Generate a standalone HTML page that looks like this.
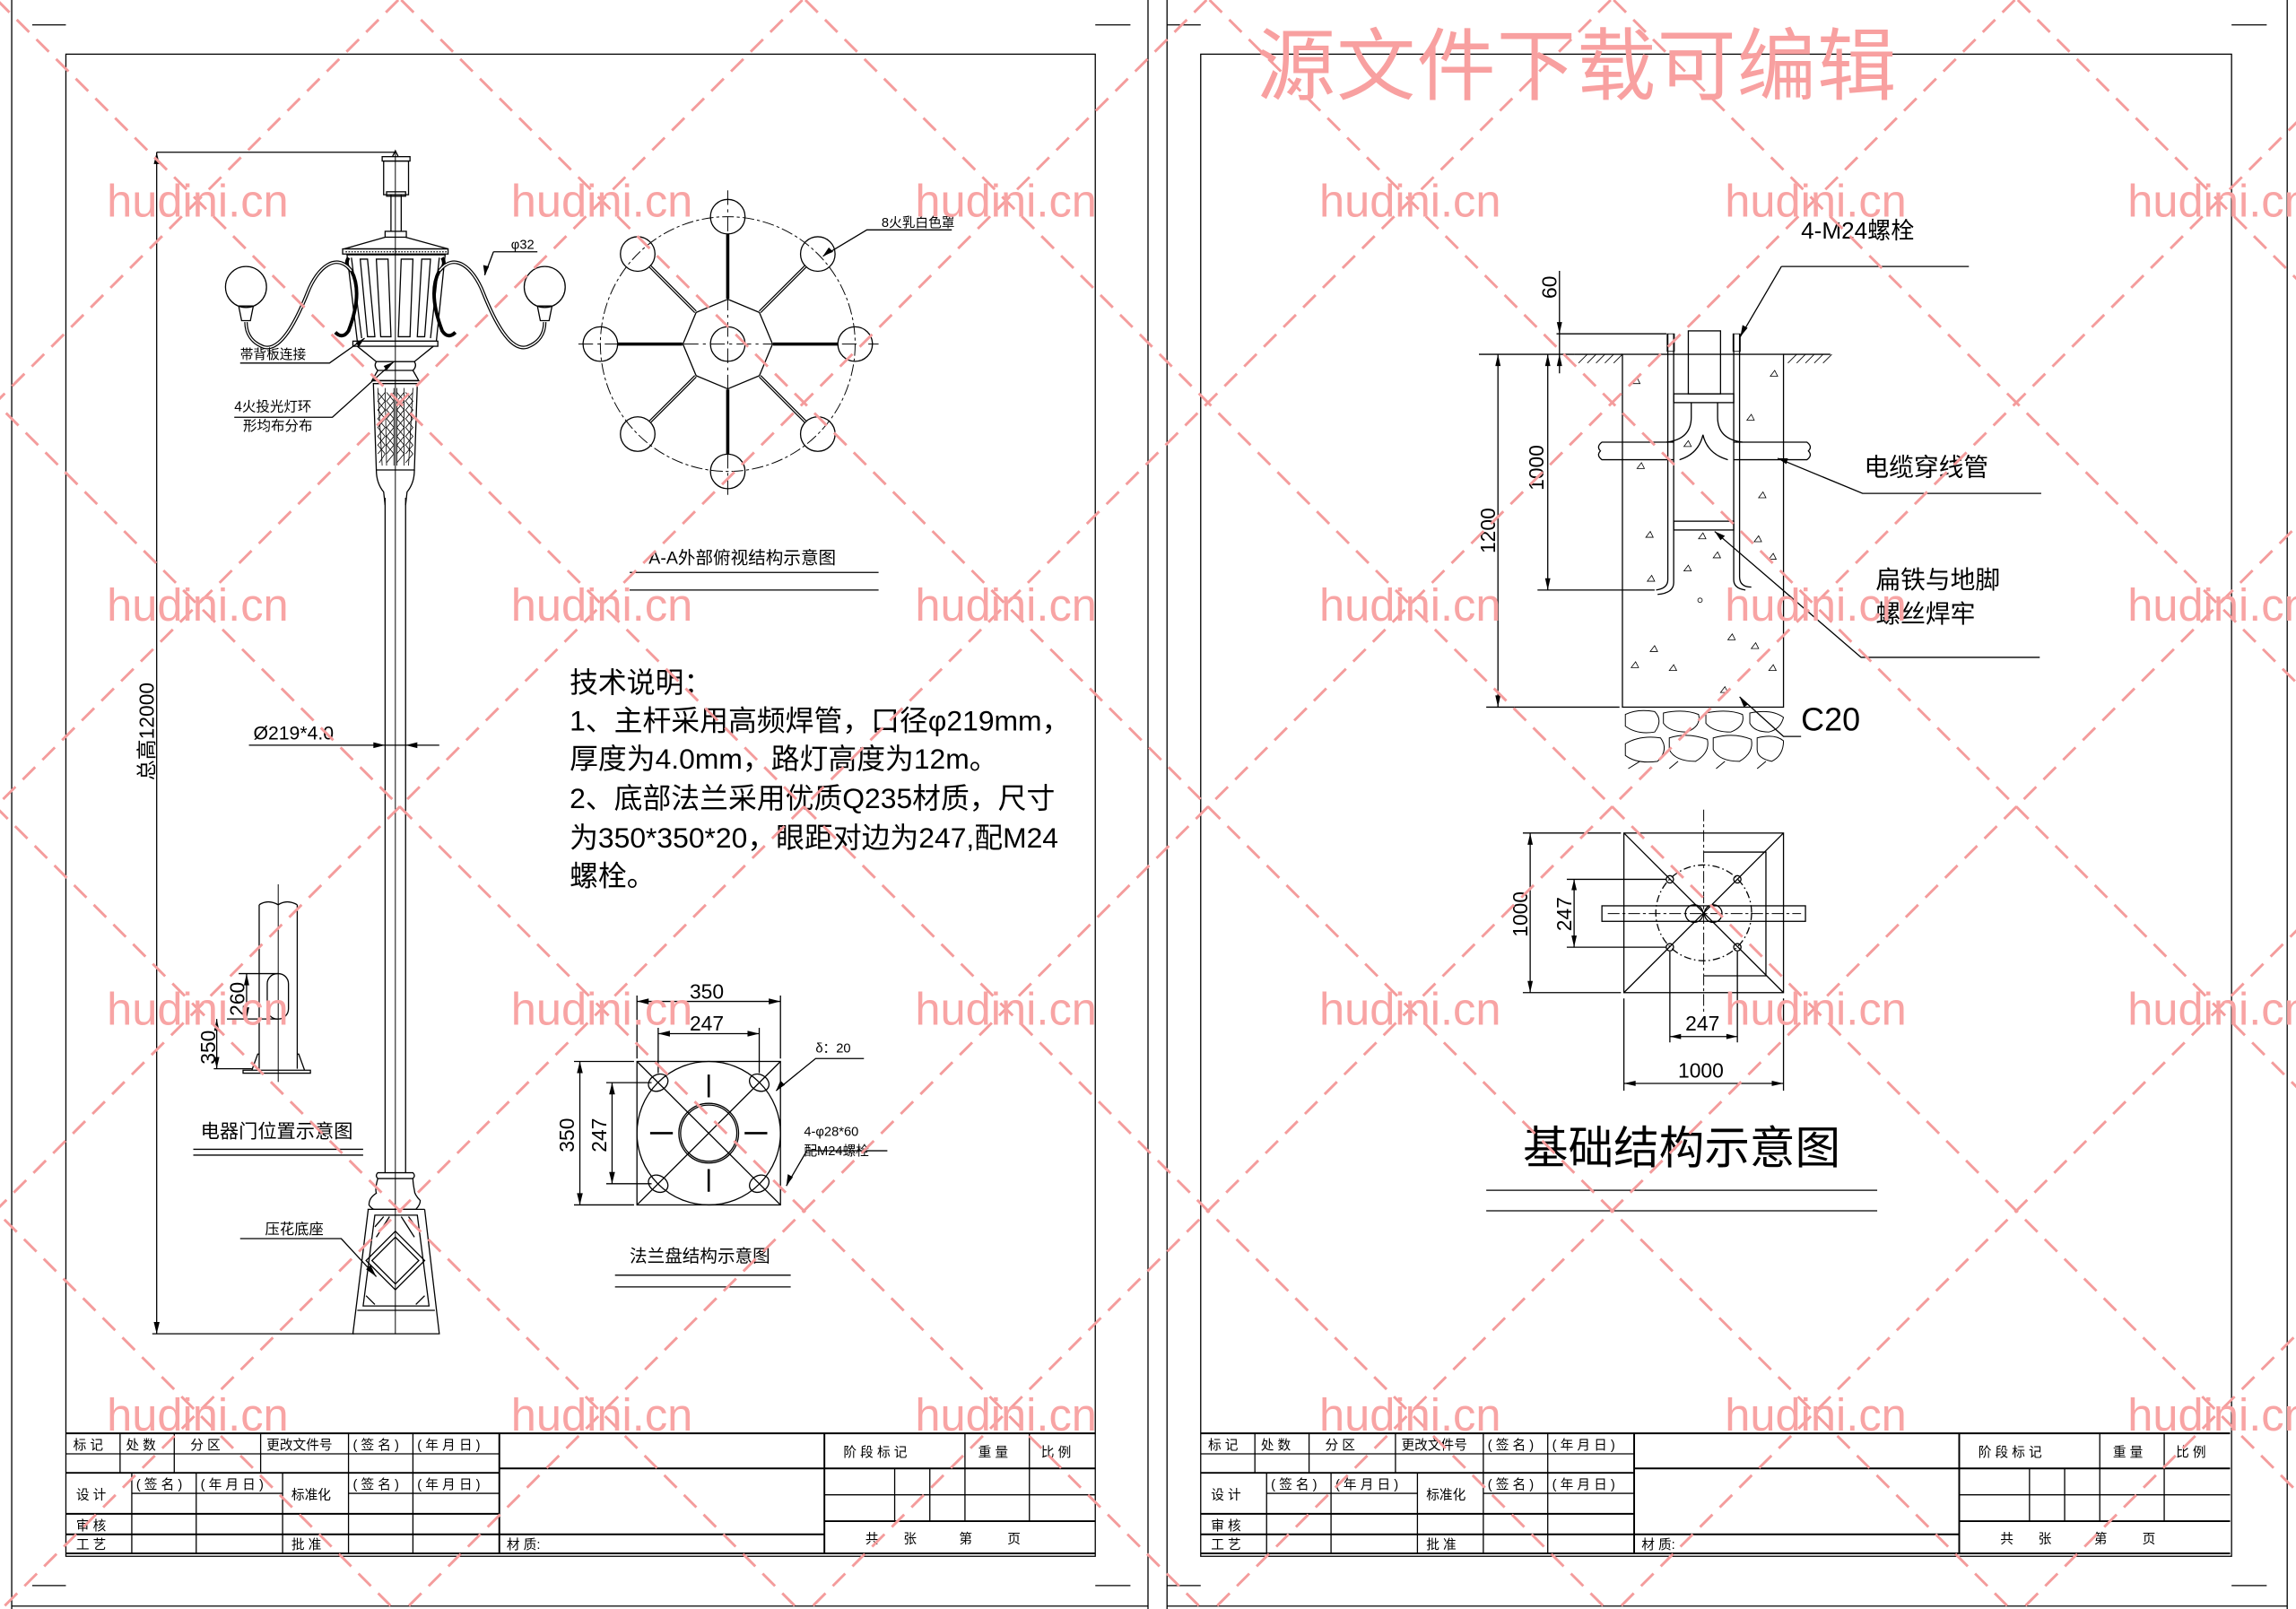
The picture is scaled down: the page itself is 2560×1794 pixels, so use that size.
<!DOCTYPE html>
<html><head><meta charset="utf-8"><style>
html,body{margin:0;padding:0;background:#fff;width:2560px;height:1794px;overflow:hidden}
svg{display:block}
text{font-family:"Liberation Sans","Noto Sans CJK SC",sans-serif;fill:#000}
</style></head><body>
<svg xmlns="http://www.w3.org/2000/svg" width="2560" height="1794" viewBox="0 0 1568 1099" preserveAspectRatio="none">
<rect width="1568" height="1099" fill="#fff"/>
<g fill="none" stroke="#000" stroke-width="0.8">
<line x1="8" y1="0" x2="8" y2="1099"/><line x1="784" y1="0" x2="784" y2="1099"/>
<line x1="797" y1="0" x2="797" y2="1099"/><line x1="1562" y1="0" x2="1562" y2="1099"/>
<line x1="8" y1="1097" x2="784" y2="1097"/><line x1="797" y1="1097" x2="1562" y2="1097"/>
<rect x="45" y="37" width="703" height="1026"/>
<rect x="820" y="37" width="704" height="1026"/>
<line x1="22" y1="17" x2="45" y2="17"/><line x1="748" y1="17" x2="772" y2="17"/>
<line x1="22" y1="1083" x2="45" y2="1083"/><line x1="748" y1="1083" x2="772" y2="1083"/>
<line x1="797" y1="17" x2="820" y2="17"/><line x1="1524" y1="17" x2="1548" y2="17"/>
<line x1="797" y1="1083" x2="820" y2="1083"/><line x1="1524" y1="1083" x2="1548" y2="1083"/>
</g>

<g id="tb" fill="none" stroke="#000" stroke-width="0.8">
<line x1="45" y1="979" x2="748" y2="979" stroke-width="1.2"/>
<line x1="45" y1="993" x2="341" y2="993"/>
<line x1="45" y1="1006" x2="341" y2="1006" stroke-width="1.2"/>
<line x1="90" y1="1020" x2="193" y2="1020"/><line x1="238" y1="1020" x2="341" y2="1020"/>
<line x1="45" y1="1034" x2="341" y2="1034" stroke-width="1.2"/>
<line x1="45" y1="1048" x2="563" y2="1048" stroke-width="1.2"/>
<line x1="45" y1="1061" x2="748" y2="1061" stroke-width="1.2"/>
<line x1="341" y1="1003" x2="748" y2="1003" stroke-width="1.2"/>
<line x1="563" y1="1021" x2="748" y2="1021"/>
<line x1="563" y1="1039" x2="748" y2="1039" stroke-width="1.2"/>
<line x1="82" y1="979" x2="82" y2="1006"/><line x1="119" y1="979" x2="119" y2="1006"/>
<line x1="178" y1="979" x2="178" y2="1006"/><line x1="238" y1="979" x2="238" y2="1061"/>
<line x1="282" y1="979" x2="282" y2="1061"/><line x1="341" y1="979" x2="341" y2="1061" stroke-width="1.2"/>
<line x1="90" y1="1006" x2="90" y2="1061"/><line x1="134" y1="1006" x2="134" y2="1061"/>
<line x1="193" y1="1006" x2="193" y2="1061"/>
<line x1="563" y1="979" x2="563" y2="1061" stroke-width="1.2"/>
<line x1="611" y1="1003" x2="611" y2="1039"/><line x1="635" y1="1003" x2="635" y2="1039"/>
<line x1="659" y1="979" x2="659" y2="1039"/><line x1="703" y1="979" x2="703" y2="1039"/>
</g>
<g id="tbt" font-size="9">
<text x="50" y="990">标 记</text><text x="86" y="990">处 数</text><text x="130" y="990">分 区</text>
<text x="182" y="990">更改文件号</text><text x="241" y="990">( 签 名 )</text><text x="285" y="990">( 年 月 日 )</text>
<text x="52" y="1024">设 计</text><text x="93" y="1017">( 签 名 )</text><text x="137" y="1017">( 年 月 日 )</text>
<text x="199" y="1024">标准化</text><text x="241" y="1017">( 签 名 )</text><text x="285" y="1017">( 年 月 日 )</text>
<text x="52" y="1045">审 核</text><text x="52" y="1058">工 艺</text><text x="199" y="1058">批 准</text>
<text x="346" y="1058">材 质:</text>
<text x="576" y="995">阶 段 标 记</text><text x="668" y="995">重 量</text><text x="711" y="995">比 例</text>
<text x="591" y="1054">共</text><text x="617" y="1054">张</text><text x="655" y="1054">第</text><text x="688" y="1054">页</text>
</g>
<use href="#tb" transform="translate(775,0)"/>
<use href="#tbt" transform="translate(775,0)"/>

<g fill="none" stroke="#000" stroke-width="0.8">
<line x1="107" y1="104" x2="270" y2="104"/><line x1="104" y1="911" x2="242" y2="911"/>
<line x1="107" y1="104" x2="107" y2="911"/>
<line x1="270" y1="104" x2="270" y2="911" stroke-width="0.6"/>
<path d="M268 107 L270 103 L272 107"/>
<rect x="261" y="107" width="19" height="3"/>
<rect x="262" y="110" width="17" height="23"/>
<rect x="264" y="131" width="13" height="3"/>
<line x1="267" y1="133" x2="267" y2="158"/><line x1="274" y1="133" x2="274" y2="158"/>
<rect x="263" y="158" width="14.5" height="4"/>
<path d="M263 162 L235 170 L306 170 L277 162"/>
<rect x="234" y="170" width="72" height="3.5"/>
<line x1="236" y1="172" x2="305" y2="172" stroke-dasharray="1 1"/>
<path d="M237 174 L244 233 L298 233 L304 174 Z"/>
<path d="M240 176 L247 231 M300 176 L294 231"/>
<path d="M246 177 L251 230 L256 230 L251 177 Z"/>
<path d="M257 177 L260 230 L267 230 L265 177 Z"/>
<path d="M274 177 L272 230 L280 230 L282 177 Z"/>
<path d="M288 177 L285 230 L290 230 L294 177 Z"/>
<rect x="241" y="233" width="58" height="3.5"/>
<path d="M244 236.5 L257 247 L283 247 L296 236.5"/>
<path d="M257 247 Q255 250 258 253 L282 253 Q285 250 283 247"/>
<path d="M258 253 L254 260 L286 260 L282 253"/>
<path d="M255 262 L257 321 L283 321 L285 262 Z"/>
<line x1="254" y1="260" x2="286" y2="260"/>
<g stroke-width="0.5">
<path d="M258 265 L261 318 M263 265 L264 318 M276 265 L276 318 M282 265 L279 318 M269 265 L269 318 M271 265 L271 318"/>
<path d="M258 268 L263 274 L258 280 L263 286 L258 292 L263 298 L258 304 L263 310 L259 316 M263 268 L258 274 L263 280 L258 286 L263 292 L258 298 L263 304 L258 310"/>
<path d="M277 268 L282 274 L277 280 L282 286 L277 292 L282 298 L277 304 L282 310 L277 316 M282 268 L277 274 L282 280 L277 286 L282 292 L277 298 L282 304 L277 310"/>
<path d="M264 268 L269 274 L264 280 L269 286 L264 292 L269 298 L264 304 L269 310 L264 316 M269 268 L264 274 L269 280 L264 286 L269 292 L264 298 L269 304 L264 310"/>
<path d="M271 268 L276 274 L271 280 L276 286 L271 292 L276 298 L271 304 L276 310 L271 316 M276 268 L271 274 L276 280 L271 286 L276 292 L271 298 L276 304 L271 310"/>
</g>
<path d="M257 321 Q257 330 262 336 L263 345 M283 321 Q283 330 278 336 L277 345"/>
<line x1="263" y1="340" x2="263" y2="801"/><line x1="277" y1="340" x2="277" y2="801"/>
<path d="M263 801 L258 801 Q256 803 258 805 L282 805 Q284 803 282 801 Z"/>
<path d="M258 805 Q256 812 257 815 Q252 818 252 823 Q254 826 256 826 L284 826 Q287 823 287 820 Q283 816 283 813 Q282 808 282 805"/>
<line x1="251" y1="826" x2="290" y2="826"/>
<path d="M251.5 826 L241 911 L300 911 L290 826"/>
<line x1="244" y1="895" x2="297" y2="895"/>
<path d="M256 830 L248 892 L293 892 L285 830 Z"/>
<path d="M270 841 L290 861 L270 881 L250 861 Z"/>
<path d="M270 845 L286 861 L270 877 L254 861 Z"/>
<path d="M256 838 L262 831 M284 838 L279 831 M250 885 L256 891 M290 885 L284 891 M257 845 L266 831 M283 845 L274 831"/>
<g stroke-width="2.4">
<path d="M238 176 Q235 181 240 185 Q248 200 238 226 Q234 232 229 227"/>
<path d="M240 185 C230 172 217 182 210 200 C200 225 190 240 180 237 C172 234 168 228 168 220"/>
<path d="M302 176 Q305 181 300 185 Q292 200 302 226 Q306 232 311 227"/>
<path d="M300 185 C310 172 323 182 330 200 C340 225 350 240 360 237 C368 234 372 228 372 220"/>
</g>
<g stroke="#fff" stroke-width="0.9">
<path d="M240 185 C230 172 217 182 210 200 C200 225 190 240 180 237 C172 234 168 228 168 220"/>
<path d="M300 185 C310 172 323 182 330 200 C340 225 350 240 360 237 C368 234 372 228 372 220"/>
</g>
<circle cx="168" cy="196" r="14"/><circle cx="372" cy="196" r="14"/>
<path d="M163 209 L173 209 L171 219 L165 219 Z M367 209 L377 209 L375 219 L369 219 Z"/>
<path d="M164 248 L225 248 L249 231"/>
<path d="M160 285 L227 285 L269 247"/>
<path d="M337 172 L367 172 M337 172 L331 188"/>
<line x1="170" y1="509" x2="300" y2="509"/>
</g>
<g fill="#000">
<path d="M263 509 L255 507 L255 511 Z"/><path d="M277 509 L285 507 L285 511 Z"/>
<path d="M107 104 L105 112 L109 112 Z"/><path d="M107 911 L105 903 L109 903 Z"/>
<path d="M249 231 L243 234 L245 237 Z"/><path d="M269 247 L262 250 L264 253 Z"/>
<path d="M331 188 L330 181 L334 182 Z"/>
</g>
<text x="173" y="505" font-size="13">Ø219*4.0</text>
<text transform="translate(105,533) rotate(-90)" font-size="14">总高12000</text>
<text x="164" y="245" font-size="9">帯背板连接</text>
<text x="160" y="281" font-size="9.5">4火投光灯环</text>
<text x="166" y="294" font-size="9.5">形均布分布</text>
<text x="349" y="170" font-size="9">φ32</text>

<g fill="none" stroke="#000" stroke-width="0.8">
<circle cx="497" cy="235" r="87" stroke-dasharray="8 2 2 2" stroke-width="0.6"/>
<line x1="395" y1="235" x2="600" y2="235" stroke-dasharray="10 3 2 3" stroke-width="0.6"/>
<line x1="497" y1="130" x2="497" y2="340" stroke-dasharray="10 3 2 3" stroke-width="0.6"/>
<polygon points="497,204.4 518.6,213.4 527.6,235 518.6,256.6 497,265.6 475.4,256.6 466.4,235 475.4,213.4"/>
<circle cx="497" cy="235" r="11.8"/>
<circle cx="497" cy="148" r="11.8"/><circle cx="497" cy="322" r="11.8"/>
<circle cx="410" cy="235" r="11.8"/><circle cx="584" cy="235" r="11.8"/>
<circle cx="435.5" cy="173.5" r="11.8"/><circle cx="558.5" cy="173.5" r="11.8"/>
<circle cx="435.5" cy="296.5" r="11.8"/><circle cx="558.5" cy="296.5" r="11.8"/>
<g stroke-width="2.2"><path d="M497 160 L497 204 M497 266 L497 310 M422 235 L466 235 M528 235 L572 235 M444 182 L475 213 M550 182 L519 213 M444 288 L475 257 M550 288 L519 257"/></g>
<g stroke="#fff" stroke-width="0.7"><path d="M444 182 L475 213 M550 182 L519 213 M444 288 L475 257 M550 288 L519 257"/></g>
<path d="M650 157 L592 157 L562 175"/>
<line x1="430" y1="391" x2="600" y2="391"/><line x1="430" y1="403" x2="600" y2="403"/>
</g>
<path d="M562 175 L566 169 L569 172 Z" fill="#000"/>
<text x="602" y="155" font-size="9">8火乳白色罩</text>
<text x="443" y="385" font-size="12">A-A外部俯视结构示意图</text>

<g font-size="19.5">
<text x="389" y="473">技术说明：</text>
<text x="389" y="499">1、主杆采用高频焊管，口径φ219mm，</text>
<text x="389" y="525">厚度为4.0mm，路灯高度为12m。</text>
<text x="389" y="552">2、底部法兰采用优质Q235材质，尺寸</text>
<text x="389" y="579">为350*350*20，眼距对边为247,配M24</text>
<text x="389" y="605">螺栓。</text>
</g>

<g fill="none" stroke="#000" stroke-width="0.8">
<path d="M177 618 L177 730 M203 618 L203 730"/>
<path d="M177 618 Q183 614 190 618 Q196 614 203 618"/>
<line x1="190" y1="604" x2="190" y2="739" stroke-width="0.6"/>
<rect x="182.5" y="665" width="14.5" height="31" rx="7"/>
<path d="M166 731 L212 731 L212 733 L166 733 Z M172 731 L176 720 L177 720 M208 731 L204 720 L203 720"/>
<path d="M163 665 L190 665 M155 696 L190 696 M146 730 L172 730"/>
<line x1="168.4" y1="665" x2="168.4" y2="696"/><line x1="148" y1="696" x2="148" y2="730"/>
<line x1="132" y1="785" x2="248" y2="785"/><line x1="132" y1="789" x2="248" y2="789"/>
<path d="M164 846 L233 846 L257 872"/>
</g>
<g fill="#000">
<path d="M168.4 665 L166.6 673 L170.2 673 Z M168.4 696 L166.6 688 L170.2 688 Z"/>
<path d="M148 696 L146.2 704 L149.8 704 Z M148 730 L146.2 722 L149.8 722 Z"/>
<path d="M257 872 L250 867 L253 864 Z"/>
</g>
<text transform="translate(167,694) rotate(-90)" font-size="14">260</text>
<text transform="translate(147,727) rotate(-90)" font-size="14">350</text>
<text x="137" y="777" font-size="13">电器门位置示意图</text>
<text x="181" y="843" font-size="10">压花底座</text>

<g fill="none" stroke="#000" stroke-width="0.8">
<rect x="435" y="725" width="98" height="98"/>
<line x1="435" y1="725" x2="533" y2="823"/><line x1="533" y1="725" x2="435" y2="823"/>
<circle cx="484" cy="774" r="49"/>
<circle cx="484" cy="774" r="20.4"/><circle cx="484" cy="774" r="19.2"/>
<path d="M484 749.5 L484 734 M484 798.5 L484 814 M459.5 774 L444 774 M508.5 774 L524 774" stroke-width="1.6"/>
<ellipse cx="449.5" cy="739.5" rx="7" ry="5.5" transform="rotate(-30 449.5 739.5)"/>
<ellipse cx="518.5" cy="739.5" rx="7" ry="5.5" transform="rotate(30 518.5 739.5)"/>
<ellipse cx="449.5" cy="808.5" rx="7" ry="5.5" transform="rotate(30 449.5 808.5)"/>
<ellipse cx="518.5" cy="808.5" rx="7" ry="5.5" transform="rotate(-30 518.5 808.5)"/>
<path d="M435 680 L435 723 M533 680 L533 723 M449.5 702 L449.5 733 M518.5 702 L518.5 733"/>
<line x1="435" y1="684" x2="533" y2="684"/><line x1="449.5" y1="706" x2="518.5" y2="706"/>
<path d="M392 725 L433 725 M392 823 L433 823 M414 739.5 L445 739.5 M414 808.5 L445 808.5"/>
<line x1="396" y1="725" x2="396" y2="823"/><line x1="418" y1="739.5" x2="418" y2="808.5"/>
<path d="M590 723 L557 723 L530 745"/>
<path d="M606 786 L551 786 L537 810"/>
<line x1="420" y1="871" x2="540" y2="871"/><line x1="420" y1="879" x2="540" y2="879"/>
</g>
<g fill="#000">
<path d="M435 684 L443 682 L443 686 Z M533 684 L525 682 L525 686 Z"/>
<path d="M449.5 706 L457.5 704 L457.5 708 Z M518.5 706 L510.5 704 L510.5 708 Z"/>
<path d="M396 725 L394 733 L398 733 Z M396 823 L394 815 L398 815 Z"/>
<path d="M418 739.5 L416 747.5 L420 747.5 Z M418 808.5 L416 800.5 L420 800.5 Z"/>
<path d="M530 745 L533 738 L536 741 Z M537 810 L538 802 L541.5 804 Z"/>
</g>
<text x="471" y="682" font-size="14">350</text>
<text x="471" y="704" font-size="14">247</text>
<text transform="translate(392,787) rotate(-90)" font-size="14">350</text>
<text transform="translate(414,787) rotate(-90)" font-size="14">247</text>
<text x="557" y="719" font-size="9">δ：20</text>
<text x="549" y="776" font-size="9">4-φ28*60</text>
<text x="549" y="789" font-size="9">配M24螺栓</text>
<text x="430" y="862" font-size="12">法兰盘结构示意图</text>

<g fill="none" stroke="#000" stroke-width="0.8">
<path d="M1216.6 182 L1344.6 182 M1216.6 182 L1188.5 230"/>
<line x1="1075" y1="242" x2="1108" y2="242"/><line x1="1218" y1="242" x2="1250" y2="242"/>
<path d="M1078 248 L1084 242 M1084 248 L1090 242 M1090 248 L1096 242 M1096 248 L1102 242 M1102 248 L1108 242 M1221 248 L1227 242 M1227 248 L1233 242 M1233 248 L1239 242 M1239 248 L1245 242 M1245 248 L1251 242" stroke-width="0.5"/>
<rect x="1108" y="242" width="110" height="241"/>
<rect x="1153" y="226" width="22" height="43"/>
<path d="M1139 228 L1139 396 Q1139 402 1131 403 M1143 228 L1143 398 Q1143 405 1132 406"/>
<path d="M1184 228 L1184 396 Q1184 402 1192 403 M1188 228 L1188 394 Q1188 401 1196 401"/>
<rect x="1138.5" y="228" width="5" height="12" stroke-width="0.5"/>
<rect x="1183.5" y="228" width="5" height="12" stroke-width="0.5"/>
<rect x="1143" y="269" width="41" height="6"/>
<rect x="1143" y="356" width="41" height="6"/>
<path d="M1143 302 L1094 302 Q1090 305 1093 308 Q1090 311 1094 314 L1143 314"/>
<path d="M1184 302 L1234 302 Q1238 305 1235 308 Q1238 311 1234 314 L1184 314"/>
<path d="M1155 275 L1155 285 Q1155 300 1138 302 M1173 275 L1173 285 Q1173 300 1190 302 M1147 314 Q1160 310 1163 297 Q1166 310 1180 314"/>
<g stroke-width="0.5">
<path d="M1118 320 l3 -4 l2 4 z M1124 367 l3 -4 l2 4 z M1127 445 l3 -4 l2 4 z M1160 368 l3 -4 l2 4 z M1170 381 l3 -4 l2 4 z M1201 340 l3 -4 l2 4 z M1208 382 l3 -4 l2 4 z M1196 443 l3 -4 l2 4 z M1180 437 l3 -4 l2 4 z M1150 390 l3 -4 l2 4 z M1140 458 l3 -4 l2 4 z M1175 473 l3 -4 l2 4 z M1208 458 l3 -4 l2 4 z M1209 257 l3 -4 l2 4 z M1115 262 l3 -4 l2 4 z M1150 305 l3 -4 l2 4 z M1193 287 l3 -4 l2 4 z M1125 397 l3 -4 l2 4 z M1198 370 l3 -4 l2 4 z M1114 456 l3 -4 l2 4 z"/>
<circle cx="1161" cy="410" r="1.5"/>
</g>
<g stroke-width="0.6">
<path d="M1110 488 Q1118 484 1130 486 Q1136 492 1130 500 Q1118 502 1110 496 Z"/>
<path d="M1136 487 Q1150 484 1160 488 Q1162 496 1152 500 Q1140 500 1136 494 Z"/>
<path d="M1165 487 Q1180 484 1190 488 Q1192 496 1182 500 Q1170 500 1165 494 Z"/>
<path d="M1195 487 Q1210 484 1218 490 Q1216 498 1208 500 Q1198 500 1195 494 Z"/>
<path d="M1110 508 Q1120 502 1134 504 Q1140 512 1132 520 Q1118 522 1110 516 Z"/>
<path d="M1140 504 Q1152 500 1166 505 Q1168 514 1158 520 Q1144 520 1140 512 Z"/>
<path d="M1170 504 Q1184 500 1196 505 Q1198 514 1188 520 Q1174 520 1170 512 Z"/>
<path d="M1200 504 Q1212 501 1218 506 Q1218 516 1210 520 Q1200 518 1200 512 Z"/>
<path d="M1112 525 L1120 520 M1140 525 L1146 520 M1172 525 L1178 520 M1200 525 L1206 520"/>
</g>
<line x1="1063" y1="228" x2="1138" y2="228"/>
<line x1="1010" y1="242" x2="1075" y2="242"/>
<line x1="1065" y1="185" x2="1065" y2="255"/>
<line x1="1057" y1="242" x2="1057" y2="403"/>
<line x1="1050" y1="403" x2="1130" y2="403"/>
<line x1="1023" y1="242" x2="1023" y2="483"/>
<line x1="1015" y1="483" x2="1106" y2="483"/>
<path d="M1394 337 L1272 337 L1214 313"/>
<path d="M1393 449 L1271 449 L1171 363"/>
<path d="M1230 503 L1218 503 L1188 476"/>
<rect x="1109" y="569" width="109" height="109"/>
<line x1="1109" y1="569" x2="1218" y2="678"/><line x1="1218" y1="569" x2="1109" y2="678"/>
<path d="M1163.5 582 L1206 582 L1206 666.5 L1163.5 666.5"/>
<circle cx="1163.5" cy="623.5" r="32.7" stroke-dasharray="5 2 1 2"/>
<rect x="1094" y="618.7" width="139" height="10.6"/>
<line x1="1098" y1="624" x2="1230" y2="624" stroke-dasharray="8 2 2 2" stroke-width="0.6"/>
<line x1="1163.5" y1="553" x2="1163.5" y2="692" stroke-dasharray="8 2 2 2" stroke-width="0.6"/>
<circle cx="1157" cy="624" r="6"/><circle cx="1170" cy="624" r="6"/>
<circle cx="1140.4" cy="600.6" r="2.5"/><circle cx="1186.5" cy="600.6" r="2.5"/>
<circle cx="1140.4" cy="647" r="2.5"/><circle cx="1186.5" cy="647" r="2.5"/>
<path d="M1040 569 L1107 569 M1040 678 L1107 678 M1070 600.6 L1138 600.6 M1070 647 L1138 647"/>
<line x1="1045" y1="569" x2="1045" y2="678"/><line x1="1075" y1="600.6" x2="1075" y2="647"/>
<path d="M1140.4 650 L1140.4 712 M1186.5 650 L1186.5 712 M1109 682 L1109 745 M1218 682 L1218 745"/>
<line x1="1140.4" y1="708" x2="1186.5" y2="708"/><line x1="1109" y1="740" x2="1218" y2="740"/>
<line x1="1015" y1="813" x2="1282" y2="813"/><line x1="1015" y1="827" x2="1282" y2="827"/>
</g>
<g fill="#000">
<path d="M1188.5 230 L1190 222 L1193.5 224 Z"/>
<path d="M1065 228 L1063.2 220 L1066.8 220 Z M1065 242 L1063.2 250 L1066.8 250 Z"/>
<path d="M1057 242 L1055.2 250 L1058.8 250 Z M1057 403 L1055.2 395 L1058.8 395 Z"/>
<path d="M1023 242 L1021.2 250 L1024.8 250 Z M1023 483 L1021.2 475 L1024.8 475 Z"/>
<path d="M1214 313 L1221 313 L1220 317 Z M1171 363 L1178 366 L1175 369 Z M1188 476 L1194 481 L1191 483 Z"/>
<path d="M1045 569 L1043.2 577 L1046.8 577 Z M1045 678 L1043.2 670 L1046.8 670 Z"/>
<path d="M1075 600.6 L1073.2 608 L1076.8 608 Z M1075 647 L1073.2 639 L1076.8 639 Z"/>
<path d="M1140.4 708 L1148 706.2 L1148 709.8 Z M1186.5 708 L1179 706.2 L1179 709.8 Z"/>
<path d="M1109 740 L1117 738.2 L1117 741.8 Z M1218 740 L1210 738.2 L1210 741.8 Z"/>
</g>
<text x="1230" y="163" font-size="16">4-M24螺栓</text>
<text transform="translate(1063,204) rotate(-90)" font-size="14">60</text>
<text transform="translate(1054,335) rotate(-90)" font-size="14">1000</text>
<text transform="translate(1021,378) rotate(-90)" font-size="14">1200</text>
<text x="1273" y="325" font-size="17">电缆穿线管</text>
<text x="1281" y="402" font-size="17">扁铁与地脚</text>
<text x="1281" y="425" font-size="17">螺丝焊牢</text>
<text x="1230" y="499" font-size="22">C20</text>
<text transform="translate(1043,640) rotate(-90)" font-size="14">1000</text>
<text transform="translate(1073,636) rotate(-90)" font-size="14">247</text>
<text x="1151" y="704" font-size="14">247</text>
<text x="1146" y="736" font-size="14">1000</text>
<text x="1040" y="795" font-size="31">基础结构示意图</text>

<g stroke="#f49c9c" stroke-width="1.8" stroke-dasharray="12 7" fill="none">
<line x1="-2" y1="0" x2="1097" y2="1099"/>
<line x1="274" y1="0" x2="1373" y2="1099"/>
<line x1="550" y1="0" x2="1649" y2="1099"/>
<line x1="826" y1="0" x2="1925" y2="1099"/>
<line x1="1102" y1="0" x2="2201" y2="1099"/>
<line x1="1378" y1="0" x2="2477" y2="1099"/>
<line x1="-278" y1="0" x2="821" y2="1099"/>
<line x1="-554" y1="0" x2="545" y2="1099"/>
<line x1="-830" y1="0" x2="269" y2="1099"/>
<line x1="-1106" y1="0" x2="-7" y2="1099"/>
<line x1="272" y1="0" x2="-827" y2="1099"/>
<line x1="548" y1="0" x2="-551" y2="1099"/>
<line x1="824" y1="0" x2="-275" y2="1099"/>
<line x1="1100" y1="0" x2="1" y2="1099"/>
<line x1="1376" y1="0" x2="277" y2="1099"/>
<line x1="1652" y1="0" x2="553" y2="1099"/>
<line x1="1928" y1="0" x2="829" y2="1099"/>
<line x1="2204" y1="0" x2="1105" y2="1099"/>
<line x1="2480" y1="0" x2="1381" y2="1099"/>
<line x1="2756" y1="0" x2="1657" y2="1099"/>
</g>
<g font-size="31" text-anchor="middle">
<text x="135" y="148" style="fill:#f8a4a4">hudini.cn</text><text x="411" y="148" style="fill:#f8a4a4">hudini.cn</text><text x="687" y="148" style="fill:#f8a4a4">hudini.cn</text><text x="963" y="148" style="fill:#f8a4a4">hudini.cn</text><text x="1240" y="148" style="fill:#f8a4a4">hudini.cn</text><text x="1515" y="148" style="fill:#f8a4a4">hudini.cn</text>
<text x="135" y="424" style="fill:#f8a4a4">hudini.cn</text><text x="411" y="424" style="fill:#f8a4a4">hudini.cn</text><text x="687" y="424" style="fill:#f8a4a4">hudini.cn</text><text x="963" y="424" style="fill:#f8a4a4">hudini.cn</text><text x="1240" y="424" style="fill:#f8a4a4">hudini.cn</text><text x="1515" y="424" style="fill:#f8a4a4">hudini.cn</text>
<text x="135" y="700" style="fill:#f8a4a4">hudini.cn</text><text x="411" y="700" style="fill:#f8a4a4">hudini.cn</text><text x="687" y="700" style="fill:#f8a4a4">hudini.cn</text><text x="963" y="700" style="fill:#f8a4a4">hudini.cn</text><text x="1240" y="700" style="fill:#f8a4a4">hudini.cn</text><text x="1515" y="700" style="fill:#f8a4a4">hudini.cn</text>
<text x="135" y="977" style="fill:#f8a4a4">hudini.cn</text><text x="411" y="977" style="fill:#f8a4a4">hudini.cn</text><text x="687" y="977" style="fill:#f8a4a4">hudini.cn</text><text x="963" y="977" style="fill:#f8a4a4">hudini.cn</text><text x="1240" y="977" style="fill:#f8a4a4">hudini.cn</text><text x="1515" y="977" style="fill:#f8a4a4">hudini.cn</text>
</g>
<text x="858" y="64" font-size="54" style="fill:#f8a0a0" textLength="437">源文件下载可编辑</text>
</svg>
</body></html>
